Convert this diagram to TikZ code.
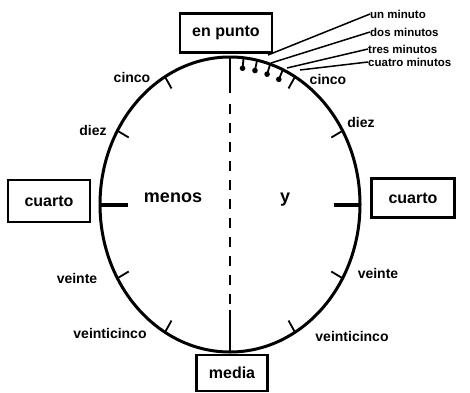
\documentclass[tikz,border=0pt]{standalone}
\usepackage{fontspec}
\setmainfont{Liberation Sans}
\usetikzlibrary{calc}
\begin{document}
\begin{tikzpicture}[x=1pt,y=1pt,
  lab/.style={font=\bfseries\fontsize{14}{14}\selectfont, inner sep=0pt},
  big/.style={font=\bfseries\fontsize{18}{18}\selectfont, inner sep=0pt},
  minlab/.style={font=\bfseries\fontsize{11.5}{11.5}\selectfont, inner sep=0pt, anchor=west},
  boxed/.style={draw, line width=2.2pt, font=\bfseries\fontsize{16}{16}\selectfont, inner sep=0pt},
  rim/.style={line width=3pt},
  tickmark/.style={line width=1.8pt},
  bigtick/.style={line width=4pt},
  minline/.style={line width=1.5pt},
  midline/.style={line width=2.6pt}]
\useasboundingbox (0,0) rectangle (470,392);
\fill[white] (0,0) rectangle (470,392);
\coordinate (c) at (230,187.5);
% clock rim
\draw[rim] (c) ellipse [x radius=130pt, y radius=147.5pt];
\coordinate (top) at ($(c)+(90:130pt and 147.5pt)$);
\coordinate (bot) at ($(c)+(270:130pt and 147.5pt)$);
% centre line
\coordinate (t1) at (230,299);
\coordinate (d1) at (230,288);
\coordinate (d2) at (230,86);
\coordinate (b1) at (230,82);
\draw[midline] (top) -- (t1);
\draw[midline, dash pattern=on 10pt off 9pt] (d1) -- (d2);
\draw[midline] (b1) -- (bot);
% five-minute ticks
\foreach \a in {30,60,120,150,210,240,300,330}
  \draw[tickmark] ($(c)+(\a:130pt and 147.5pt)$) -- ($(c)+(\a:117pt and 134pt)$);
% quarter ticks
\draw[bigtick] ($(c)+(180:130pt and 147.5pt)$) -- ++(28,0);
\draw[bigtick] ($(c)+(0:130pt and 147.5pt)$) -- ++(-26,0);
% minute marks
\foreach \a/\n in {84/1,78/2,72/3,66/4} {
  \draw[line width=1.8pt] ($(c)+(\a:130pt and 147.5pt)$) -- ($(c)+(\a:121pt and 138pt)$);
  \fill ($(c)+(\a:120pt and 137pt)$) circle (2.8pt);
}
% boxes
\node[boxed, minimum width=92pt, minimum height=39pt] (enpunto) at (226,359) {en punto};
\node[boxed, minimum width=82pt, minimum height=42pt] (cuartoL) at (49,191) {cuarto};
\node[boxed, minimum width=83pt, minimum height=39pt] (cuartoR) at (413,194) {cuarto};
\node[boxed, minimum width=71pt, minimum height=36pt] (media) at (232,19) {media};
% labels
\node[lab] (cincoL) at (132,315) {cinco};
\node[lab] (diezL) at (93,262) {diez};
\node[lab] (veinteL) at (77,114) {veinte};
\node[lab] (veinticincoL) at (110,59) {veinticinco};
\node[lab] (cincoR) at (328,313) {cinco};
\node[lab] (diezR) at (361,270) {diez};
\node[lab] (veinteR) at (378,119) {veinte};
\node[lab] (veinticincoR) at (352,56) {veinticinco};
\node[big] (menos) at (173,194) {menos};
\node[big] (yy) at (285,192) {y};
% minute labels and leaders
\node[minlab] (m1) at (370,378) {un minuto};
\node[minlab] (m2) at (370,360) {dos minutos};
\node[minlab] (m3) at (368,343) {tres minutos};
\node[minlab] (m4) at (368,330) {cuatro minutos};
\coordinate (s1) at (268,337);
\coordinate (s2) at (271,329);
\coordinate (s3) at (287,324);
\coordinate (s4) at (300,322);
\draw[minline] (s1) -- (m1.west);
\draw[minline] (s2) -- (m2.west);
\draw[minline] (s3) -- (m3.west);
\draw[minline] (s4) -- (m4.west);
\end{tikzpicture}
\end{document}
